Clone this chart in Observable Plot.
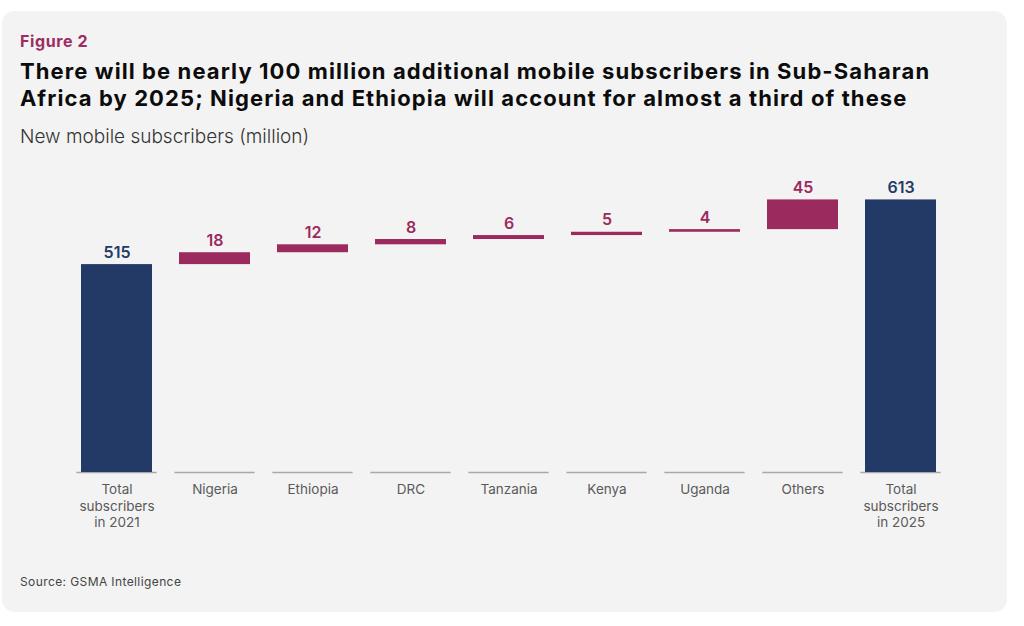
<!DOCTYPE html>
<html>
<head>
<meta charset="utf-8">
<script src="https://cdn.jsdelivr.net/npm/d3@7"></script>
<script src="https://cdn.jsdelivr.net/npm/@observablehq/plot@0.6"></script>
<style>
  html, body { margin: 0; padding: 0; background: #ffffff; }
  #wrap { position: relative; width: 1024px; height: 626px; overflow: hidden; font-family: Inter, "Open Sans", sans-serif; }
  #card { position: absolute; left: 2px; top: 11px; width: 1005px; height: 601px; background: #f3f3f3; border-radius: 13px; }
  .t { position: absolute; left: 20px; white-space: nowrap; margin: 0; }
  #fig { top: 33px; font-size: 16px; line-height: 16px; font-weight: 700; color: #9b2d62; letter-spacing: 0.6px; }
  #title { top: 58px; font-size: 22px; line-height: 27px; font-weight: 700; color: #0c0c0c; letter-spacing: 1.1px; }
  #sub { top: 127px; font-size: 19px; line-height: 19px; font-weight: 300; color: #333; }
  #src { top: 576px; font-size: 12px; line-height: 12px; font-weight: 400; color: #444; letter-spacing: 0.4px; }
  #chart { position: absolute; left: 0; top: 160px; }
</style>
</head>
<body>
<div id="wrap">
  <div id="card"></div>
  <div class="t" id="fig">Figure 2</div>
  <div class="t" id="title">There will be nearly 100 million additional mobile subscribers in Sub-Saharan<br>Africa by 2025; Nigeria and Ethiopia will account for almost a third of these</div>
  <div class="t" id="sub">New mobile subscribers (million)</div>
  <div id="chart"></div>
  <div class="t" id="src">Source: GSMA Intelligence</div>
</div>
<script>
// ---- data ----
const categories = ["Total 2021", "Nigeria", "Ethiopia", "DRC", "Tanzania", "Kenya", "Uganda", "Others", "Total 2025"];
const tickLabels = ["Total\nsubscribers\nin 2021", "Nigeria", "Ethiopia", "DRC", "Tanzania", "Kenya", "Uganda", "Others", "Total\nsubscribers\nin 2025"];
const values = [515, 18, 12, 8, 6, 5, 4, 45, 613];
const kinds = ["total", "change", "change", "change", "change", "change", "change", "change", "total"];
const yDomain = [200, 650];

const colors = { total: "#233a66", change: "#9b2a5e" };

// build waterfall rows
let running = 0;
const rows = categories.map((c, i) => {
  const v = values[i];
  let y1, y2;
  if (kinds[i] === "total") { y1 = yDomain[0]; y2 = v; running = v; }
  else { y1 = running; y2 = running + v; running = y2; }
  return { cat: c, label: tickLabels[i], value: v, kind: kinds[i], y1, y2 };
});
const labelOf = new Map(rows.map(r => [r.cat, r.label]));

const chart = Plot.plot({
  width: 1024,
  height: 390,
  marginLeft: 66,
  marginRight: 73,
  marginTop: 15,
  marginBottom: 78,
  style: { background: "transparent", fontFamily: "Inter, 'Open Sans', sans-serif" },
  x: { domain: categories, paddingInner: 0.28, paddingOuter: 0.14, align: 0.5, axis: null, label: null },
  y: { domain: yDomain, axis: null },
  marks: [
    Plot.tickY(rows, { x: "cat", y: () => yDomain[0], stroke: "#a9a9a9", strokeWidth: 1.4, insetLeft: -4.6, insetRight: -4.6 }),
    Plot.barY(rows, { x: "cat", y1: "y1", y2: "y2", fill: d => colors[d.kind] }),
    Plot.text(rows, { x: "cat", y: "y2", text: d => String(d.value), dy: -7, lineAnchor: "bottom",
      fill: d => colors[d.kind], fontSize: 16, fontWeight: 600 }),
    Plot.axisX({ tickSize: 0, tickPadding: 10, tickFormat: d => labelOf.get(d), fontSize: 13.5,
      lineHeight: 1.22, fill: "#5a5a5a", fontWeight: 400, label: null })
  ]
});
document.getElementById("chart").appendChild(chart);
</script>
</body>
</html>
